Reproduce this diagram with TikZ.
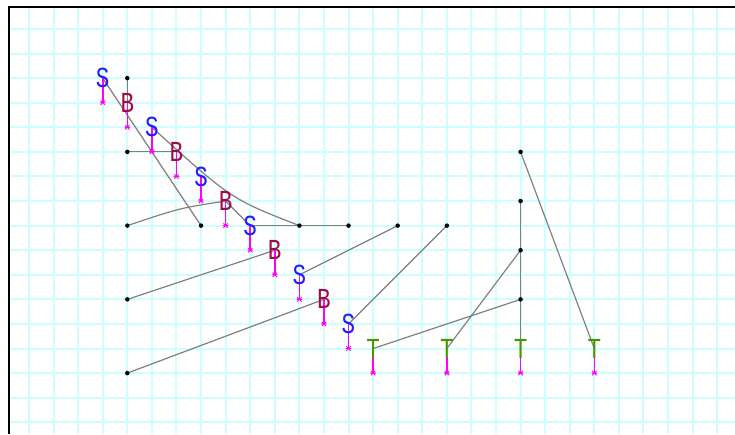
\documentclass[tikz,border=0pt]{standalone}
\usepackage{fontspec}
\newfontfamily\symfont{Liberation Mono}
\definecolor{gridc}{RGB}{204,255,255}
\definecolor{sblue}{RGB}{30,30,255}
\definecolor{bred}{RGB}{160,10,70}
\definecolor{tgreen}{RGB}{70,150,0}
\definecolor{stemc}{RGB}{255,0,255}
\definecolor{wirec}{RGB}{128,128,128}
\pgfdeclarelayer{bg}
\pgfsetlayers{bg,main}
\begin{document}
\begin{tikzpicture}[x=1pt,y=-1pt,
  gridline/.style={gridc,line width=2pt},
  wire/.style={draw=wirec,line width=1.2pt},
  dot/.style={circle,fill=black,inner sep=0pt,minimum size=4.5pt},
  letter/.style={font=\symfont\fontsize{29}{29}\selectfont,inner sep=0pt,xscale=0.78},
  stemline/.style={stemc,line width=1.6pt},
  starline/.style={stemc,line width=0.9pt}]
\useasboundingbox (0,0) rectangle (735,434);
\begin{pgfonlayer}{bg}
\fill[white] (0,0) rectangle (735,434);
\foreach \i in {1,...,30} \draw[gridline] ({4.4+24.58*\i},7) -- ({4.4+24.58*\i},434);
\foreach \j in {1,...,18} \draw[gridline] (9,{4.4+24.58*\j}) -- (735,{4.4+24.58*\j});
\draw[black,line width=2.5pt] (9,434) -- (9,7) -- (735,7);
\end{pgfonlayer}
% dots
\foreach \n/\a/\b in {d1/5/3,d2/5/6,d3/5/9,d4/8/9,d5/12/9,d6/14/9,d7/16/9,d8/18/9,d9/5/12,d10/5/15,d11/21/6,d12/21/8,d13/21/10,d14/21/12}
  \node[dot] (\n) at ({4.4+24.58*\a},{4.4+24.58*\b}) {};
% stems with asterisks
\foreach \a/\b/\o in {4/3/0,5/4/0,6/5/0,7/6/0,8/7/0,9/8/0,10/9/0,11/10/0,12/11/0,13/12/0,14/13/0,15/14/8,18/14/8,21/14/8,24/14/8} {
  \draw[stemline] ({4.4+24.58*\a},{4.4+24.58*\b+\o}) -- ({4.4+24.58*\a},{4.4+24.58*(\b+1)});
  \draw[starline] ({4.4+24.58*\a-2.8},{4.4+24.58*(\b+1)}) -- ++(5.6,0)
    ({4.4+24.58*\a-2.2},{4.4+24.58*(\b+1)-2.2}) -- ++(4.4,4.4)
    ({4.4+24.58*\a-2.2},{4.4+24.58*(\b+1)+2.2}) -- ++(4.4,-4.4);
}
% letters
\foreach \n/\a/\b in {s1/4/3,s2/6/5,s3/8/7,s4/10/9,s5/12/11,s6/14/13}
  \node[letter,text=sblue] (\n) at ({4.4+24.58*\a},{4.4+24.58*\b}) {S};
\foreach \n/\a/\b in {b1/5/4,b2/7/6,b3/9/8,b4/11/10,b5/13/12}
  \node[letter,text=bred] (\n) at ({4.4+24.58*\a},{4.4+24.58*\b}) {B};
\foreach \n/\a/\b in {t1/15/14,t2/18/14,t3/21/14,t4/24/14}
  \node[letter,text=tgreen] (\n) at ({4.4+24.58*\a},{4.4+24.58*\b}) {T};
% wires
\begin{pgfonlayer}{bg}
\draw[wire] (d1.center) -- (b1.center);
\draw[wire] (s1.center) -- (d4.center);
\draw[wire] (d2.center) -- (b2.center);
\draw[wire] (s2.center) .. controls (231,199) .. (d5.center);
\draw[wire] (d3.center) .. controls (180,208) .. (b3.center);
\draw[wire] (b3.center) -- (s4.center);
\draw[wire] (s4.center) -- (d5.center) -- (d6.center);
\draw[wire] (d9.center) -- (b4.center);
\draw[wire] (s5.center) -- (d7.center);
\draw[wire] (d10.center) -- (b5.center);
\draw[wire] (s6.center) -- (d8.center);
\draw[wire] (t1.center) -- (d14.center);
\draw[wire] (t2.center) -- (d13.center);
\draw[wire] (t3.center) -- (d14.center) -- (d13.center) -- (d12.center);
\draw[wire] (t4.center) -- (d11.center);
\end{pgfonlayer}
\end{tikzpicture}
\end{document}
